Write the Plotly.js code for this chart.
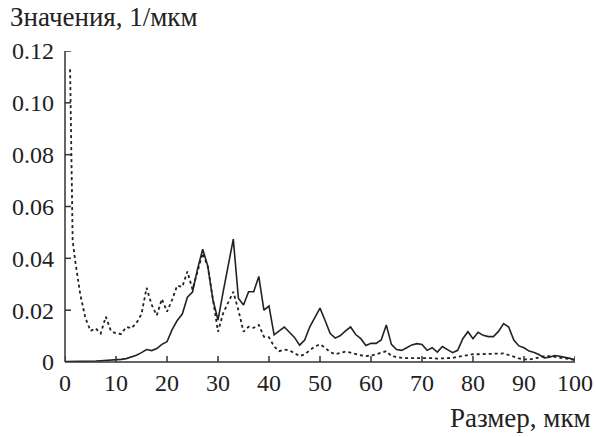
<!DOCTYPE html>
<html>
<head>
<meta charset="utf-8">
<script src="https://cdn.plot.ly/plotly-3.0.1.min.js"></script>
<style>html,body{margin:0;padding:0;background:#fff;}#chart{width:596px;height:437px;}</style>
</head>
<body>
<div id="chart"></div>
<script>
// Solid series (x = 0..100, step 1)
const solidX = [];
for (let i = 0; i <= 100; i++) solidX.push(i);
const solidY = [
  0.0002,0.0002,0.0002,0.0003,0.0003,0.0004,0.0004,0.0005,0.0006,0.0007,
  0.0008,0.0010,0.0013,0.0018,0.0026,0.0036,0.0048,0.0044,0.0052,0.0068,
  0.0078,0.0125,0.0160,0.0185,0.0250,0.0270,0.0360,0.0435,0.0370,0.0240,
  0.0162,0.0270,0.0370,0.0474,0.0246,0.0220,0.0271,0.0271,0.0330,0.0200,
  0.0216,0.0105,0.0120,0.0135,0.0115,0.0095,0.0065,0.0085,0.0136,0.0175,
  0.0208,0.0160,0.0110,0.0092,0.0102,0.0120,0.0135,0.0106,0.0090,0.0064,
  0.0072,0.0072,0.0085,0.0143,0.0068,0.0048,0.0045,0.0055,0.0066,0.0071,
  0.0068,0.0045,0.0055,0.0038,0.0060,0.0048,0.0036,0.0045,0.0090,0.0117,
  0.0090,0.0115,0.0103,0.0098,0.0098,0.0118,0.0148,0.0135,0.0085,0.0062,
  0.0055,0.0042,0.0037,0.0028,0.0016,0.0018,0.0025,0.0022,0.0019,0.0014,
  0.0008
];
// Dashed series
const dashX = [1,1.5,2,3,4,5,6,7,8,9,10,11,12,13,14,15,16,17,18,19,20,21,22,23,24,25,26,27,28,29,30,
  31,32,33,34,35,36,37,38,39,40,41,42,43,44,45,46,47,48,49,50,51,52,53,54,55,56,57,58,59,60,
  61,62,63,64,65,66,67,68,69,70,71,72,73,74,75,76,77,78,79,80,81,82,83,84,85,86,87,88,89,90,
  91,92,93,94,95,96,97,98,99,100];
const dashY = [0.113,0.047,0.039,0.026,0.017,0.012,0.013,0.011,0.0175,0.012,0.011,0.0108,0.0135,0.013,0.015,0.0185,
  0.0286,0.022,0.018,0.0243,0.0194,0.024,0.0295,0.029,0.0349,0.028,0.035,0.042,0.0368,0.024,0.0117,
  0.0188,0.023,0.0271,0.020,0.0117,0.0136,0.0132,0.0143,0.0098,0.0095,
  0.006,0.0042,0.0048,0.0045,0.0035,0.0023,0.003,0.0045,0.006,0.0068,
  0.0055,0.0038,0.003,0.0035,0.004,0.0036,0.003,0.0026,0.0023,0.0025,
  0.003,0.0035,0.0042,0.0023,0.0018,0.0016,0.0015,0.0015,0.0016,0.0015,
  0.0014,0.0015,0.0013,0.0014,0.0016,0.0016,0.002,0.0024,0.0027,0.003,
  0.003,0.0031,0.003,0.0032,0.0034,0.0033,0.0027,0.0019,0.0014,0.001,
  0.001,0.0013,0.0018,0.0023,0.0023,0.002,0.0018,0.0015,0.0012,0.0008];

const xTicks = [0,10,20,30,40,50,60,70,80,90,100];
const yTicks = [0,0.02,0.04,0.06,0.08,0.10,0.12];
const yTickText = ["0","0.02","0.04","0.06","0.08","0.10","0.12"];
const yTitle = "Значения, 1/мкм";
const xTitle = "Размер, мкм";

const FAM = "Liberation Serif, serif";
const tickFont = () => ({family: FAM, size: 24, color: "#222"});
const titleFont = () => ({family: FAM, size: 27, color: "#222"});
const AX = {color: "#333333", width: 1.5};

const traces = [
  {x: solidX, y: solidY, type: "scatter", mode: "lines",
   line: {color: "#222", width: 1.6}, showlegend: false},
  {x: dashX, y: dashY, type: "scatter", mode: "lines",
   line: {color: "#222", width: 1.8, dash: "dot"}, showlegend: false}
];

// axis frame lines and inward ticks drawn as layout shapes, positioned from the tick arrays
const shapes = [
  {type: "line", xref: "paper", yref: "paper", x0: 0, x1: 1, y0: 0, y1: 0, line: AX, layer: "above"},
  {type: "line", xref: "paper", yref: "paper", x0: 0, x1: 0, y0: 0, y1: 1, line: AX, layer: "above"}
];
xTicks.forEach(v => shapes.push({type: "line", xref: "x", yref: "paper", x0: v, x1: v,
  ysizemode: "pixel", yanchor: 0, y0: 0, y1: 6, line: AX, layer: "above"}));
yTicks.forEach(v => shapes.push({type: "line", xref: "paper", yref: "y", y0: v, y1: v,
  xsizemode: "pixel", xanchor: 0, x0: 0, x1: 6, line: AX, layer: "above"}));

const layout = {
  width: 596, height: 437,
  margin: {l: 65, r: 21, t: 51, b: 75, pad: 0},
  paper_bgcolor: "#ffffff", plot_bgcolor: "#ffffff",
  font: tickFont(),
  xaxis: {range: [0, 100], tickmode: "array", tickvals: xTicks, ticks: "",
    showline: false, showgrid: false, zeroline: false, tickfont: tickFont(), ticklabelstandoff: 4},
  yaxis: {range: [0, 0.12], tickmode: "array", tickvals: yTicks, ticktext: yTickText, ticks: "",
    showline: false, showgrid: false, zeroline: false, ticklabelstandoff: 10, tickfont: tickFont()},
  shapes: shapes,
  annotations: [
    {text: yTitle, xref: "paper", yref: "paper", x: -0.112, y: 1.109, xanchor: "left", yanchor: "middle",
     showarrow: false, font: titleFont()},
    {text: xTitle, xref: "paper", yref: "paper", x: 1.035, y: -0.18, xanchor: "right", yanchor: "middle",
     showarrow: false, font: titleFont()}
  ]
};

Plotly.newPlot("chart", traces, layout, {displayModeBar: false});
</script>
</body>
</html>
